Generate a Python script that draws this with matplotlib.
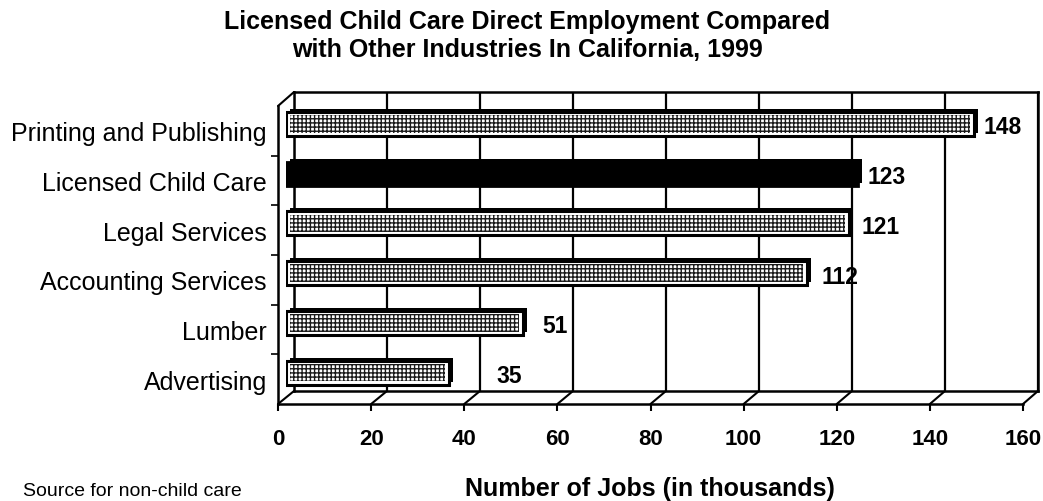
import matplotlib
matplotlib.use('Agg')
import matplotlib.pyplot as plt
import numpy as np
from matplotlib import transforms
from matplotlib.patches import ConnectionPatch

plt.rcParams['font.family'] = ['Liberation Sans', 'DejaVu Sans']
plt.rcParams['hatch.linewidth'] = 1.0

# data, top to bottom as in the picture
industries = ['Printing and Publishing', 'Licensed Child Care', 'Legal Services',
              'Accounting Services', 'Lumber', 'Advertising']
jobs = [148, 123, 121, 112, 51, 35]
highlight = 'Licensed Child Care'
x_ticks = [0, 20, 40, 60, 80, 100, 120, 140, 160]

# pixel offsets of the value labels (the scan places them unevenly)
label_offsets = [9, 10, 13, 15, 19, 48]

W, H = 1043, 502


def rect(left, top, right, bottom):
    # pixel box -> figure fraction
    return [left / W, 1 - bottom / H, (right - left) / W, (bottom - top) / H]


fig = plt.figure(figsize=(W / 100, H / 100), dpi=100)

# fake 3d: back wall, bars at mid depth, front floor/wall
back = fig.add_axes(rect(294, 93, 1038, 392))
mid = fig.add_axes(rect(286, 100, 1030, 398.5))
front = fig.add_axes(rect(278, 107, 1023, 405))

ypos = np.arange(len(industries))[::-1]
for ax in (back, mid, front):
    ax.set_xlim(0, 160)
    ax.set_ylim(-0.5, len(industries) - 0.5)
    ax.set_facecolor('none')

# back wall
for s in back.spines.values():
    s.set_linewidth(1.8)
back.set_xticks(x_ticks)
back.tick_params(length=0, labelbottom=False, labelleft=False)
back.set_yticks([])
back.grid(axis='x', color='black', linewidth=1.6)

# bars
mid.axis('off')
bar_h = 0.48
shadow = transforms.offset_copy(mid.transData, fig=fig, x=4, y=3, units='dots')
mid.barh(ypos, jobs, height=bar_h, color='black', transform=shadow, zorder=1)
for y, v, name in zip(ypos, jobs, industries):
    if name == highlight:
        mid.barh(y, v, height=bar_h, color='black', edgecolor='black', linewidth=2, zorder=2)
    else:
        mid.barh(y, v, height=bar_h, color='white', edgecolor='black', linewidth=2.2, zorder=2)
        mid.barh(y, v - 1.6, left=0.8, height=bar_h * 0.74, color='white',
                 edgecolor='#1a1a1a', hatch='++++', linewidth=0, zorder=3)

for y, v, off in zip(ypos, jobs, label_offsets):
    mid.annotate(str(v), xy=(v, y), xytext=(off, -3), textcoords='offset pixels',
                 ha='left', va='center', fontsize=16.5, fontweight='bold')

# front floor and left wall
front.spines['top'].set_visible(False)
front.spines['right'].set_visible(False)
front.spines['bottom'].set_linewidth(1.8)
front.spines['left'].set_linewidth(1.8)
front.set_xticks(x_ticks)
front.set_xticklabels([str(t) for t in x_ticks], fontsize=16, fontweight='bold')
front.tick_params(axis='x', direction='out', length=5, width=1.5, pad=12)
front.set_yticks(ypos)
front.set_yticklabels(industries, fontsize=18)
front.tick_params(axis='y', length=0, pad=8)
front.set_yticks(np.arange(len(industries) - 1) + 0.5, minor=True)
front.tick_params(axis='y', which='minor', length=5, width=1.2)

# depth edges
for t in x_ticks:
    con = ConnectionPatch(xyA=(t, -0.5), coordsA=front.transData,
                          xyB=(t, -0.5), coordsB=back.transData, linewidth=1.5)
    fig.add_artist(con)
top_y = len(industries) - 0.5
fig.add_artist(ConnectionPatch(xyA=(0, top_y), coordsA=front.transData,
                               xyB=(0, top_y), coordsB=back.transData, linewidth=1.5))

fig.text(527 / W, 1 - 22 / H, 'Licensed Child Care Direct Employment Compared',
         ha='center', va='center', fontsize=18, fontweight='bold')
fig.text(527 / W, 1 - 50 / H, 'with Other Industries In California, 1999',
         ha='center', va='center', fontsize=18, fontweight='bold')
fig.text(650 / W, 1 - 489 / H, 'Number of Jobs (in thousands)',
         ha='center', va='center', fontsize=18, fontweight='bold')
fig.text(23 / W, 1 - 500 / H, 'Source for non-child care',
         ha='left', va='bottom', fontsize=14)

fig.savefig('out.png', dpi=100)
